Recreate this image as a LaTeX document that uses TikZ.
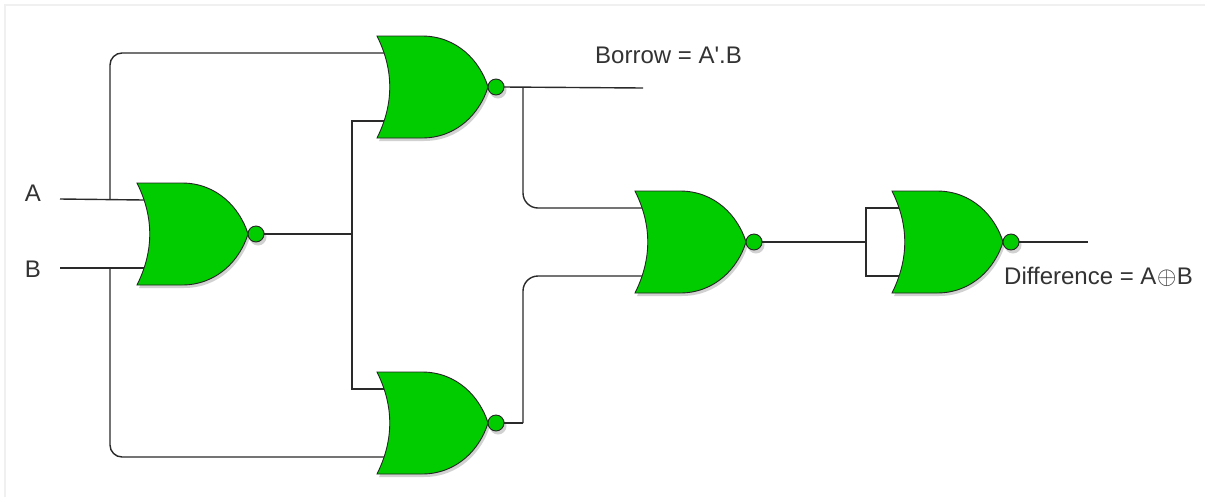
\documentclass[tikz,border=0pt]{standalone}
\usepackage{fontspec}
\setmainfont{Liberation Sans}
\definecolor{gatefill}{HTML}{00CC00}
\definecolor{wirecol}{HTML}{2A2A2A}
\definecolor{txtcol}{HTML}{333333}
\tikzset{
  wire/.style={draw=wirecol, line width=1.4pt},
  gateshape/.style={fill=gatefill, draw=black!85, line width=0.9pt},
  shadowshape/.style={fill=black, opacity=0.18},
  lbl/.style={text=txtcol, font=\fontsize{24}{28}\selectfont, inner sep=0pt},
  norgate/.pic={
    \fill[shadowshape] (2,3) -- (47,3) .. controls (82,3) and (105,28) .. (113,54)
       .. controls (105,80) and (82,105) .. (47,105) -- (2,105)
       .. controls (19,71) and (19,37) .. (2,3) -- cycle;
    \fill[shadowshape] (121,54) circle (8.5);
    \draw[gateshape] (0,0) -- (45,0) .. controls (80,0) and (103,25) .. (111,51)
       .. controls (103,77) and (80,102) .. (45,102) -- (0,102)
       .. controls (17,68) and (17,34) .. (0,0) -- cycle;
    \draw[gateshape] (119,51) circle (8);
    \coordinate (-in1) at (7,17);
    \coordinate (-in2) at (7,85);
    \coordinate (-out) at (127,51);
  }
}
\begin{document}
\begin{tikzpicture}[x=1pt, y=-1pt]
\useasboundingbox (0,0) rectangle (1207,499);
\fill[white] (0,0) rectangle (1207,499);
\draw[draw=black!6, line width=1.5pt] (5,497) -- (5,5) -- (1205,5);

% gates
\pic (g1) at (137,183) {norgate};
\pic (g2) at (377,36) {norgate};
\pic (g3) at (377,372) {norgate};
\pic (g4) at (635,191) {norgate};
\pic (g5) at (892,191) {norgate};

% labels
\node[lbl, anchor=base] (la) at (33,201) {A};
\node[lbl, anchor=base] (lb) at (33,277) {B};
\node[lbl, anchor=base west] (lborrow) at (595,63) {Borrow = A\textquotesingle.B};
\node[lbl, anchor=base west] (ldiff) at (1004,284) {Difference = A\kern0.5pt$\mathord{\oplus}$\kern0.5pt B};

% coordinates
\coordinate (ain) at (60,199);
\coordinate (bin) at (60,268);
\coordinate (ja) at (110,199);
\coordinate (jb) at (110,268);
\coordinate (j1) at (352,234);
\coordinate (j2) at (523,88);
\coordinate (bend) at (643,88);
\coordinate (j3) at (523,423);
\coordinate (j4) at (866,242);
\coordinate (dend) at (1088,242);

% wires
\draw[wire] (ain) -- (g1-in1);
\draw[wire] (bin) -- (g1-in2);
\draw[wire, rounded corners=12pt] (ja) |- (g2-in1);
\draw[wire, rounded corners=12pt] (jb) |- (g3-in2);
\draw[wire] (g1-out) -- (j1);
\draw[wire] (g2-in2) -| (j1) |- (g3-in1);
\draw[wire] (g2-out) -- (bend);
\draw[wire, rounded corners=15pt] (j2) |- (g4-in1);
\draw[wire] (g3-out) -- (j3);
\draw[wire, rounded corners=15pt] (j3) |- (g4-in2);
\draw[wire] (g4-out) -- (j4);
\draw[wire] (g5-in1) -| (j4) |- (g5-in2);
\draw[wire] (g5-out) -- (dend);
\end{tikzpicture}
\end{document}
